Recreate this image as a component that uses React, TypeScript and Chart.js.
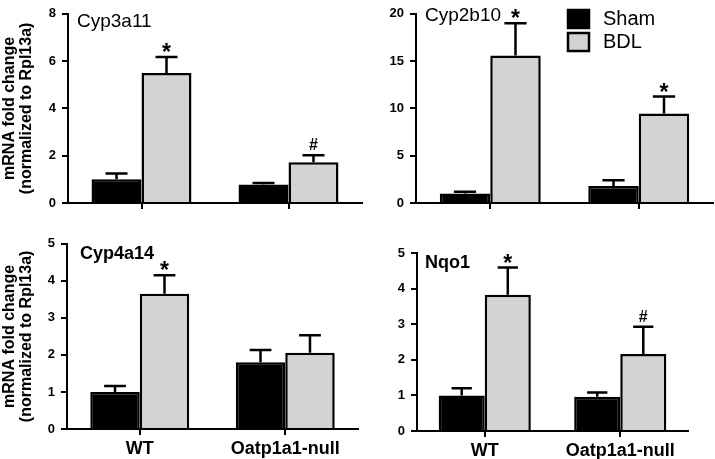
import React, { useEffect, useRef } from 'react';
import { Chart, registerables } from 'chart.js';

Chart.register(...registerables);

// ---------- data ----------
const categories = ['WT', 'Oatp1a1-null'];
const seriesNames = ['Sham', 'BDL'];
const panelTitles = ['Cyp3a11', 'Cyp2b10', 'Cyp4a14', 'Nqo1'];
const yTitleLines = ['mRNA fold change', '(normalized to Rpl13a)'];

const cyp3a11Sham = [1.0, 0.78];
const cyp3a11ShamErr = [0.25, 0.07];
const cyp3a11Bdl = [5.5, 1.72];
const cyp3a11BdlErr = [0.67, 0.3];
const cyp3a11Marks = ['*', '#'];

const cyp2b10Sham = [1.0, 1.8];
const cyp2b10ShamErr = [0.2, 0.6];
const cyp2b10Bdl = [15.6, 9.45];
const cyp2b10BdlErr = [3.4, 1.8];
const cyp2b10Marks = ['*', '*'];

const cyp4a14Sham = [1.0, 1.8];
const cyp4a14ShamErr = [0.16, 0.33];
const cyp4a14Bdl = [3.65, 2.06];
const cyp4a14BdlErr = [0.5, 0.47];
const cyp4a14Marks = ['*', ''];

const nqo1Sham = [1.0, 0.96];
const nqo1ShamErr = [0.2, 0.12];
const nqo1Bdl = [3.83, 2.16];
const nqo1BdlErr = [0.76, 0.77];
const nqo1Marks = ['*', '#'];

const yMax = [8, 20, 5, 5];
const yStep = [2, 5, 1, 1];

// ---------- styles / layout ----------
const FONT = 'Arial, "Liberation Sans", sans-serif';
const SHAM_COLOR = '#000000';
const BDL_COLOR = '#d3d3d3';

type Panel = {
  title: string;
  sham: number[];
  shamErr: number[];
  bdl: number[];
  bdlErr: number[];
  marks: string[];
  max: number;
  step: number;
  box: { left: number; top: number; w: number; h: number };
  yWidth: number;
  padRight: number;
  padTop: number;
  xHeight: number;
  showX: boolean;
  showYTitle: boolean;
  showLegend: boolean;
  titleDx: number;
  titleDy: number;
  titleFont: string;
};

const panels: Panel[] = [
  {
    title: panelTitles[0], sham: cyp3a11Sham, shamErr: cyp3a11ShamErr, bdl: cyp3a11Bdl, bdlErr: cyp3a11BdlErr,
    marks: cyp3a11Marks, max: yMax[0], step: yStep[0],
    box: { left: 0, top: 0, w: 370, h: 230 }, yWidth: 68, padRight: 8, padTop: 9, xHeight: 27,
    showX: false, showYTitle: true, showLegend: false, titleDx: 9, titleDy: 8, titleFont: '19px',
  },
  {
    title: panelTitles[1], sham: cyp2b10Sham, shamErr: cyp2b10ShamErr, bdl: cyp2b10Bdl, bdlErr: cyp2b10BdlErr,
    marks: cyp2b10Marks, max: yMax[1], step: yStep[1],
    box: { left: 370, top: 0, w: 345, h: 230 }, yWidth: 46, padRight: 2, padTop: 10, xHeight: 27,
    showX: false, showYTitle: false, showLegend: true, titleDx: 9, titleDy: 2, titleFont: '19px',
  },
  {
    title: panelTitles[2], sham: cyp4a14Sham, shamErr: cyp4a14ShamErr, bdl: cyp4a14Bdl, bdlErr: cyp4a14BdlErr,
    marks: cyp4a14Marks, max: yMax[2], step: yStep[2],
    box: { left: 0, top: 230, w: 370, h: 229 }, yWidth: 67, padRight: 12, padTop: 13, xHeight: 30,
    showX: true, showYTitle: true, showLegend: false, titleDx: 13, titleDy: 10, titleFont: 'bold 18px',
  },
  {
    title: panelTitles[3], sham: nqo1Sham, shamErr: nqo1ShamErr, bdl: nqo1Bdl, bdlErr: nqo1BdlErr,
    marks: nqo1Marks, max: yMax[3], step: yStep[3],
    box: { left: 370, top: 230, w: 345, h: 229 }, yWidth: 47, padRight: 27, padTop: 23, xHeight: 28,
    showX: true, showYTitle: false, showLegend: false, titleDx: 8, titleDy: 10, titleFont: 'bold 18px',
  },
];

function makePlugin(p: Panel) {
  return {
    id: 'extras',
    afterDatasetsDraw(chart: any) {
      const ctx: CanvasRenderingContext2D = chart.ctx;
      const area = chart.chartArea;
      const yScale = chart.scales.y;
      const errs = [p.shamErr, p.bdlErr];
      const vals = [p.sham, p.bdl];
      ctx.save();
      // error bars
      ctx.strokeStyle = '#000';
      ctx.lineWidth = 2.5;
      for (let d = 0; d < 2; d++) {
        const meta = chart.getDatasetMeta(d);
        meta.data.forEach((el: any, i: number) => {
          const top = yScale.getPixelForValue(vals[d][i] + errs[d][i]);
          const capW = el.width * 0.44;
          ctx.beginPath();
          ctx.moveTo(el.x, el.y);
          ctx.lineTo(el.x, top);
          ctx.moveTo(el.x - capW / 2, top);
          ctx.lineTo(el.x + capW / 2, top);
          ctx.stroke();
          // significance marks (BDL only)
          if (d === 1 && p.marks[i]) {
            const m = p.marks[i];
            ctx.fillStyle = '#000';
            ctx.textAlign = 'center';
            ctx.textBaseline = 'alphabetic';
            if (m === '*') {
              ctx.font = `bold 23px ${FONT}`;
              ctx.fillText(m, el.x, top + 3);
            } else {
              ctx.font = `bold 16px ${FONT}`;
              ctx.fillText(m, el.x, top - 5);
            }
          }
        });
      }
      // panel title
      ctx.fillStyle = '#000';
      ctx.textAlign = 'left';
      ctx.textBaseline = 'middle';
      ctx.font = `${p.titleFont} ${FONT}`;
      ctx.fillText(p.title, area.left + p.titleDx, area.top + p.titleDy);
      // y title
      if (p.showYTitle) {
        const cy = (area.top + area.bottom) / 2;
        ctx.font = `bold 16px ${FONT}`;
        ctx.textAlign = 'center';
        ctx.textBaseline = 'middle';
        const xs = [10, 27];
        yTitleLines.forEach((line, k) => {
          ctx.save();
          ctx.translate(xs[k], cy);
          ctx.rotate(-Math.PI / 2);
          ctx.fillText(line, 0, 0);
          ctx.restore();
        });
      }
      // legend
      if (p.showLegend) {
        const colors = [SHAM_COLOR, BDL_COLOR];
        const ys = [9, 32];
        ctx.font = `20px ${FONT}`;
        ctx.textAlign = 'left';
        ctx.textBaseline = 'middle';
        seriesNames.forEach((name, k) => {
          ctx.fillStyle = colors[k];
          ctx.fillRect(198, ys[k] + 1, 21, 18);
          ctx.strokeStyle = '#000';
          ctx.lineWidth = 2.5;
          ctx.strokeRect(198, ys[k] + 1, 21, 18);
          ctx.fillStyle = '#000';
          ctx.fillText(name, 233, ys[k] + 10);
        });
      }
      ctx.restore();
    },
  };
}

function PanelChart({ p }: { p: Panel }) {
  const ref = useRef<HTMLCanvasElement | null>(null);
  useEffect(() => {
    if (!ref.current) return;
    const chart = new Chart(ref.current, {
      type: 'bar',
      data: {
        labels: categories,
        datasets: [
          {
            label: seriesNames[0],
            data: p.sham,
            backgroundColor: SHAM_COLOR,
            borderColor: '#000',
            borderWidth: 2.5,
            barPercentage: 1,
            categoryPercentage: 0.68,
          },
          {
            label: seriesNames[1],
            data: p.bdl,
            backgroundColor: BDL_COLOR,
            borderColor: '#000',
            borderWidth: 2.5,
            barPercentage: 1,
            categoryPercentage: 0.68,
          },
        ],
      },
      options: {
        responsive: false,
        animation: false,
        devicePixelRatio: 1,
        layout: { padding: { left: 0, right: p.padRight, top: p.padTop, bottom: 0 } },
        plugins: { legend: { display: false }, tooltip: { enabled: false }, title: { display: false } },
        scales: {
          x: {
            offset: true,
            grid: { display: true, offset: false, drawOnChartArea: false, drawTicks: true, tickLength: 6, color: '#000', lineWidth: 2 },
            border: { display: true, color: '#000', width: 2 },
            ticks: {
              display: p.showX,
              color: '#000',
              font: { family: FONT, size: 18, weight: 'bold' },
              padding: 3,
              maxRotation: 0,
              autoSkip: false,
            },
            afterFit: (s: any) => { s.height = p.xHeight; },
          },
          y: {
            min: 0,
            max: p.max,
            ticks: { stepSize: p.step, color: '#000', font: { family: FONT, size: 13, weight: 'bold' }, padding: 6 },
            grid: { drawOnChartArea: false, drawTicks: true, tickLength: 6, color: '#000', lineWidth: 2 },
            border: { display: true, color: '#000', width: 2 },
            afterFit: (s: any) => { s.width = p.yWidth; },
          },
        },
      } as any,
      plugins: [makePlugin(p)],
    });
    return () => chart.destroy();
  }, [p]);
  return (
    <canvas
      ref={ref}
      width={p.box.w}
      height={p.box.h}
      style={{ position: 'absolute', left: p.box.left, top: p.box.top, width: p.box.w, height: p.box.h }}
    />
  );
}

export default function App() {
  return (
    <div style={{ position: 'absolute', left: 0, top: 0, width: 715, height: 459, background: '#fff', overflow: 'hidden' }}>
      {panels.map((p, i) => (
        <PanelChart key={i} p={p} />
      ))}
    </div>
  );
}
